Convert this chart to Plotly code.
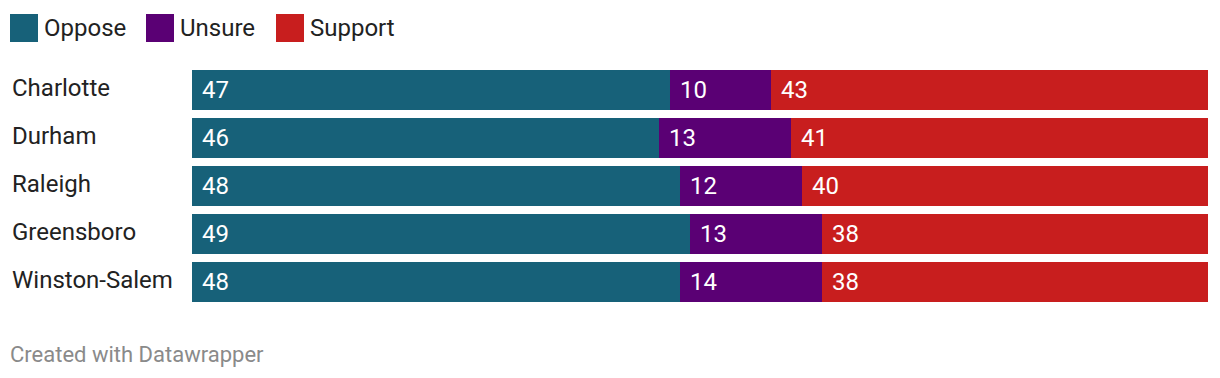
import plotly.graph_objects as go

cities = ["Charlotte", "Durham", "Raleigh", "Greensboro", "Winston-Salem"]
oppose = [47, 46, 48, 49, 48]
unsure = [10, 13, 12, 13, 14]
support = [43, 41, 40, 38, 38]

series = [("Oppose", oppose, "#176179"), ("Unsure", unsure, "#5a0074"), ("Support", support, "#c81e1e")]

FONT = "Roboto"
# page offset (body margin) compensation
OFF = 8
FW, FH = 1220, 378
L, T = 192 - OFF, 66 - OFF  # plot spans page px 192..1208, 66..306
W = 1208 - 192
H = 306 - 66
R = FW - L - W
B = FH - T - H


def px_x(px):
    return (px - 192) / W


def px_y(py):
    return (306 - py) / H


fig = go.Figure()
for name, vals, col in series:
    fig.add_trace(go.Bar(y=cities, x=vals, name=name, orientation="h",
                         marker=dict(color=col, line=dict(width=0)), showlegend=False,
                         hoverinfo="x+y"))

annotations = []
for i, c in enumerate(cities):
    start = 0
    for name, vals, col in series:
        annotations.append(dict(x=start, y=c, xref="x", yref="y", text=str(vals[i]),
                                showarrow=False, xanchor="left", xshift=8,
                                font=dict(family=FONT, size=24, color="white")))
        start += vals[i]
    annotations.append(dict(x=px_x(10), y=c, xref="paper", yref="y", text=c, showarrow=False,
                            xanchor="left", yshift=2,
                            font=dict(family=FONT, size=24, color="#222222")))

legend_x = [10, 146, 276]
shapes = []
for (name, vals, col), lx in zip(series, legend_x):
    shapes.append(dict(type="rect", xref="paper", yref="paper", x0=px_x(lx), x1=px_x(lx + 28),
                       y0=px_y(42), y1=px_y(14), line=dict(width=0), fillcolor=col))
    annotations.append(dict(x=px_x(lx + 32), y=px_y(28), xref="paper", yref="paper",
                            text=name, showarrow=False, xanchor="left", yanchor="middle",
                            font=dict(family=FONT, size=24, color="#222222")))

annotations.append(dict(x=px_x(8), y=px_y(354), xref="paper", yref="paper",
                        text="Created with Datawrapper", showarrow=False, xanchor="left",
                        yanchor="middle", font=dict(family=FONT, size=22, color="#8a8a8a")))

fig.update_layout(
    barmode="stack", bargap=8 / 48,
    width=FW, height=FH,
    margin=dict(l=L, r=R, t=T, b=B),
    paper_bgcolor="white", plot_bgcolor="white",
    xaxis=dict(range=[0, 100], visible=False, fixedrange=True),
    yaxis=dict(autorange="reversed", visible=False, fixedrange=True),
    annotations=annotations, shapes=shapes,
    font=dict(family=FONT),
)
fig.write_html("out.html")
